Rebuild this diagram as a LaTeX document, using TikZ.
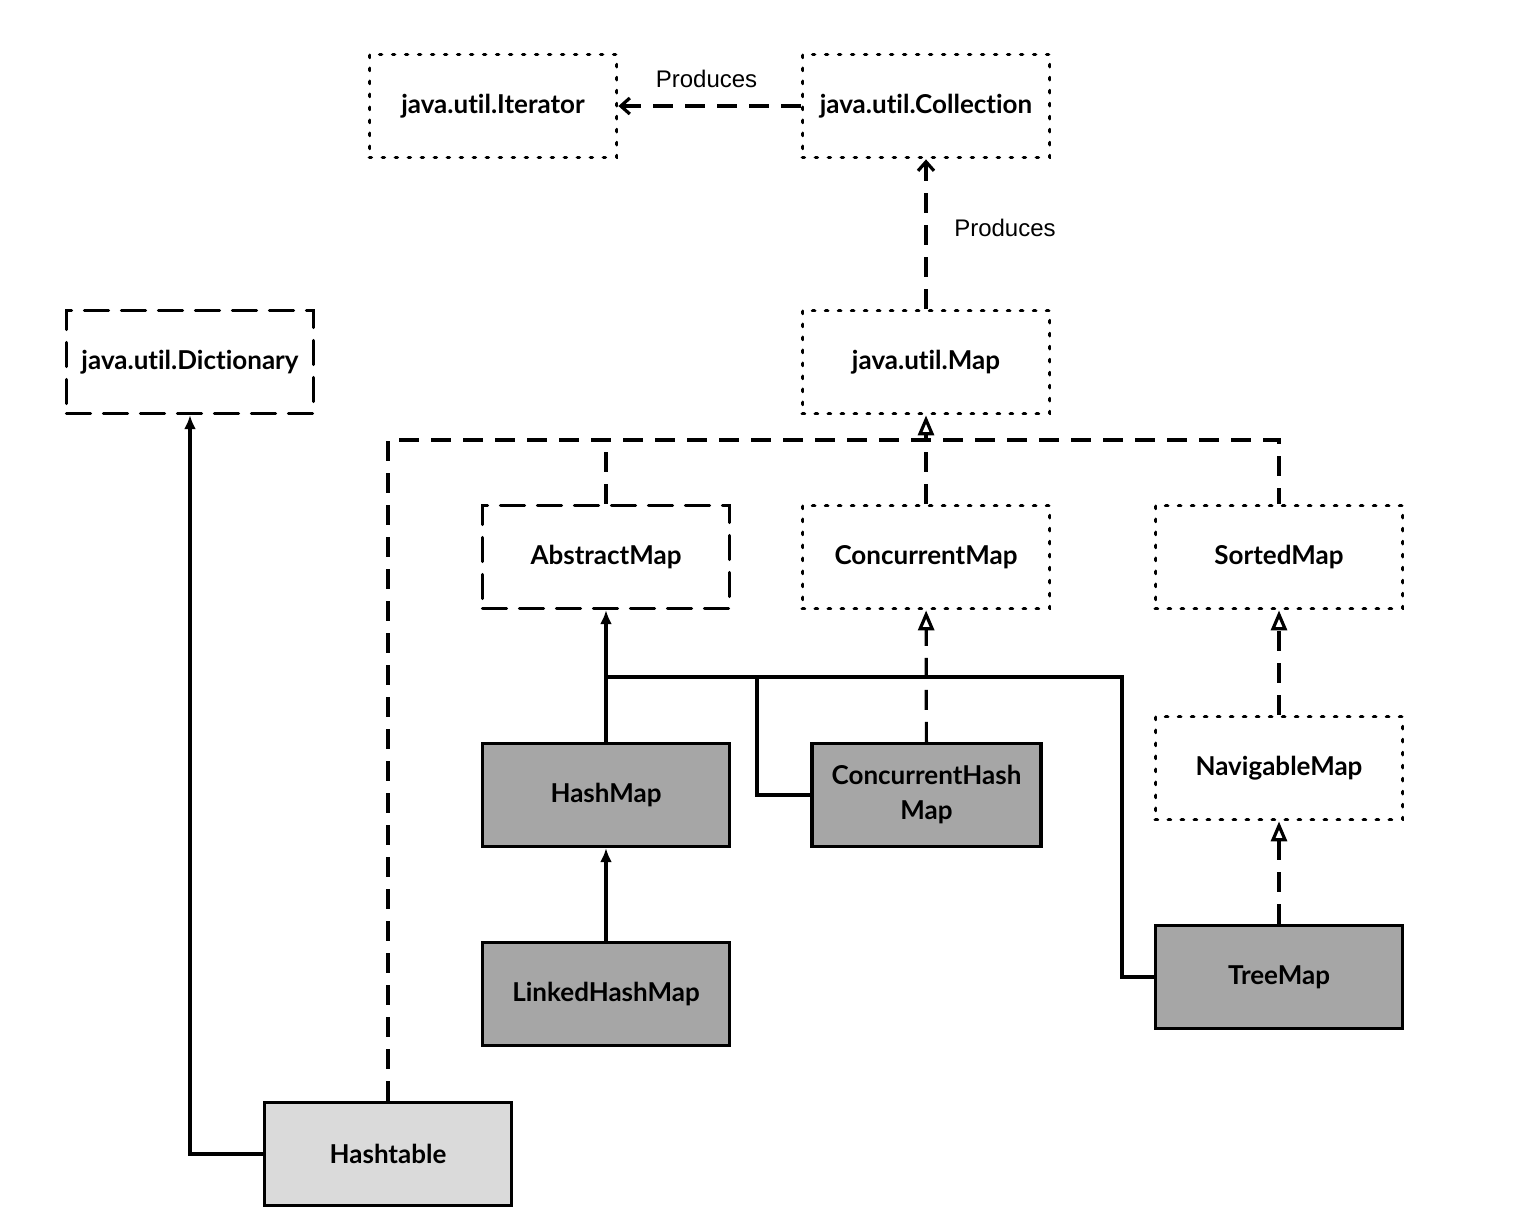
\documentclass[tikz,border=0pt]{standalone}
\usepackage{fontspec}
\setmainfont{Lato}[Ligatures={NoCommon}]
\newfontfamily\lblfont{Liberation Sans}
\usetikzlibrary{arrows.meta}
\definecolor{darkfill}{HTML}{A6A6A6}
\definecolor{lightfill}{HTML}{DADADA}
\begin{document}
\begin{tikzpicture}[x=0.5pt,y=-0.5pt,
  box/.style={line width=1.6pt, minimum width=123.5pt, minimum height=51.5pt,
    inner sep=0pt, align=center, font=\bfseries\fontsize{13}{17.5}\selectfont},
  dotbox/.style={box, draw, line width=1.9pt, line cap=round, dash pattern=on 0.9pt off 5.6pt},
  dashbox/.style={box, draw, line cap=round, dash pattern=on 12pt off 6.5pt},
  solidbox/.style={box, draw, fill=darkfill},
  lbl/.style={font=\lblfont\fontsize{12}{14}\selectfont},
  conn/.style={line width=1.6pt},
  inh/.style={conn, -{Latex[length=7pt,width=6pt]}},
  real/.style={conn, dash pattern=on 10pt off 6pt, -{Triangle[open,length=10pt,width=8pt,line width=1.6pt]}},
  realline/.style={conn, dash pattern=on 10pt off 6pt},
  dep/.style={conn, dash pattern=on 10pt off 6pt, -{Straight Barb[length=4.5pt,width=8pt]}}]
\useasboundingbox (0,0) rectangle (1514,1216);
\fill[white] (0,0) rectangle (1514,1216);

\node[dotbox] (it) at (493,106) {java.util.Iterator};
\node[dotbox] (col) at (926,106) {java.util.Collection};
\node[dotbox] (map) at (926,362) {java.util.Map};
\node[dashbox] (dict) at (190,362) {java.util.Dictionary};
\node[dashbox] (am) at (606,557) {AbstractMap};
\node[dotbox] (cm) at (926,557) {ConcurrentMap};
\node[dotbox] (sm) at (1279,557) {SortedMap};
\node[dotbox] (nm) at (1279,768) {NavigableMap};
\node[solidbox] (hm) at (606,795) {HashMap};
\node[solidbox, minimum width=114.5pt] (chm) at (926.5,795) {ConcurrentHash\\Map};
\node[solidbox] (lhm) at (606,994) {LinkedHashMap};
\node[solidbox] (tm) at (1279,977) {TreeMap};
\node[box, draw, fill=lightfill] (ht) at (388,1154) {Hashtable};

% dependencies
\draw[dep] (col) -- node[above=5pt, lbl, xshift=-1.5pt]{Produces} (it);
\draw[dep] (map) -- node[right=10pt, lbl, yshift=3pt]{Produces} (col);

% realization tree to Map
\coordinate (bus) at (926,440);
\draw[realline] (ht.north) -- (ht.north |- bus) -- (bus -| sm.north) -- (sm.north);
\draw[realline] (am.north) -- (am.north |- bus);
\draw[realline] (cm.north) -- (bus);
\draw[real] (bus) -- (map.south);

% inheritance
\draw[inh] (ht.west) -| (dict.south);
\draw[inh] (hm.north) -- (am.south);
\coordinate (j) at (606,677);
\coordinate (j1) at (757,677);
\coordinate (j2) at (1122,677);
\draw[conn] (j) -- (j2) |- (tm.west);
\draw[conn] (j1) |- (chm.west);
\draw[inh] (lhm) -- (hm);

% realizations
\draw[real] (chm) -- (cm);
\draw[real] (nm) -- (sm);
\draw[real] (tm) -- (nm);
\end{tikzpicture}
\end{document}
